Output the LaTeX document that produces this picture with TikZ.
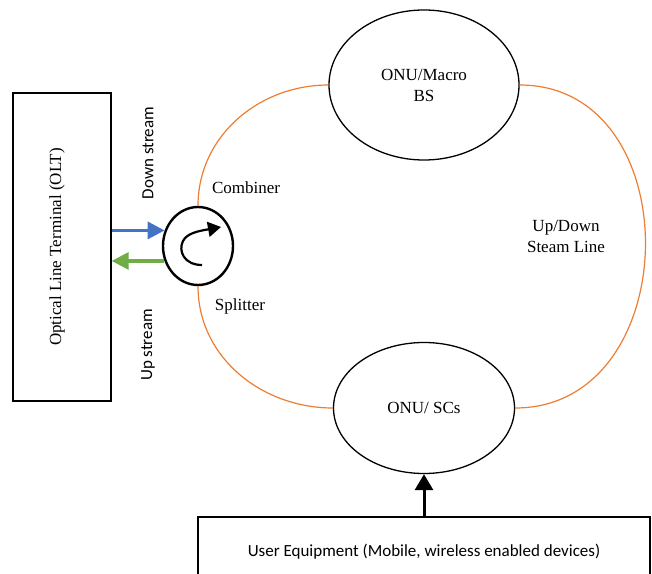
\documentclass[tikz,border=0pt]{standalone}
\usepackage{fontspec}
\setmainfont{Liberation Serif}
\newfontfamily\calibri{Carlito}
\usetikzlibrary{shapes.geometric,arrows.meta}
\definecolor{fiberorange}{RGB}{237,125,49}
\definecolor{downblue}{RGB}{68,114,196}
\definecolor{upgreen}{RGB}{112,173,71}

\begin{document}
\begin{tikzpicture}[x=1pt, y=1pt,
        font=\fontsize{17}{21}\selectfont,
        sans/.style={font=\calibri\fontsize{17}{21}\selectfont},
        box/.style={draw, line width=1.4pt, inner sep=0pt},
        onu/.style={draw, ellipse, line width=1.3pt, align=center, inner sep=0pt},
        fiber/.style={draw=fiberorange, line width=1.2pt},
        flow/.style={line width=3.2pt, -{Triangle[length=17pt,width=17pt]}}]
        \useasboundingbox (0,0) rectangle (652,573);

        \node[box, minimum width=98pt, minimum height=308pt] (olt) at (62,326) {};
        \node[rotate=90] (oltlabel) at ([xshift=-5pt]olt.center) {Optical Line Terminal (OLT)};

        \node[draw, ellipse, line width=2.4pt, minimum width=70pt, minimum height=78pt] (circ) at (198,327) {};
        \draw[line width=2.2pt, -{Triangle[length=13pt,width=15pt]}] (202,308) .. controls (184,308) and (178,322) .. (183,332) .. controls (187,340) and (199,342) .. (221,346);

        \draw[flow, downblue] (circ.155 -| olt.east) -- (circ.155);
        \draw[flow, upgreen] (circ.204) -- (circ.204 -| olt.east);

        \node[sans, rotate=90] (down) at (148,420) {Down stream};
        \node[sans, rotate=90] (up) at (148,228) {Up stream};
        \node (comb) at (246,385) {Combiner};
        \node (split) at (240,267) {Splitter};

        \node[onu, minimum width=190pt, minimum height=150pt] (top) at (424,488) {ONU/Macro\\BS};
        \node[onu, minimum width=181pt, minimum height=131pt] (bot) at (424,165) {ONU/ SCs};
        \node[align=center] (line) at (566,337) {Up/Down\\Steam Line};

        \draw[fiber] (circ.north) to[out=90, in=180] (top.west);
        \draw[fiber] (circ.south) to[out=-90, in=180] (bot.west);
        \draw[fiber] (top.east) to[out=0, in=0, looseness=1.35] (bot.east);

        \node[box, sans, minimum width=452pt, minimum height=70pt] (ue) at (424,21) {User Equipment (Mobile, wireless enabled devices)};
        \draw[line width=3pt, -{Triangle[length=16pt,width=18pt]}] (ue.north) -- (bot.south);
    \end{tikzpicture}
\end{document}
